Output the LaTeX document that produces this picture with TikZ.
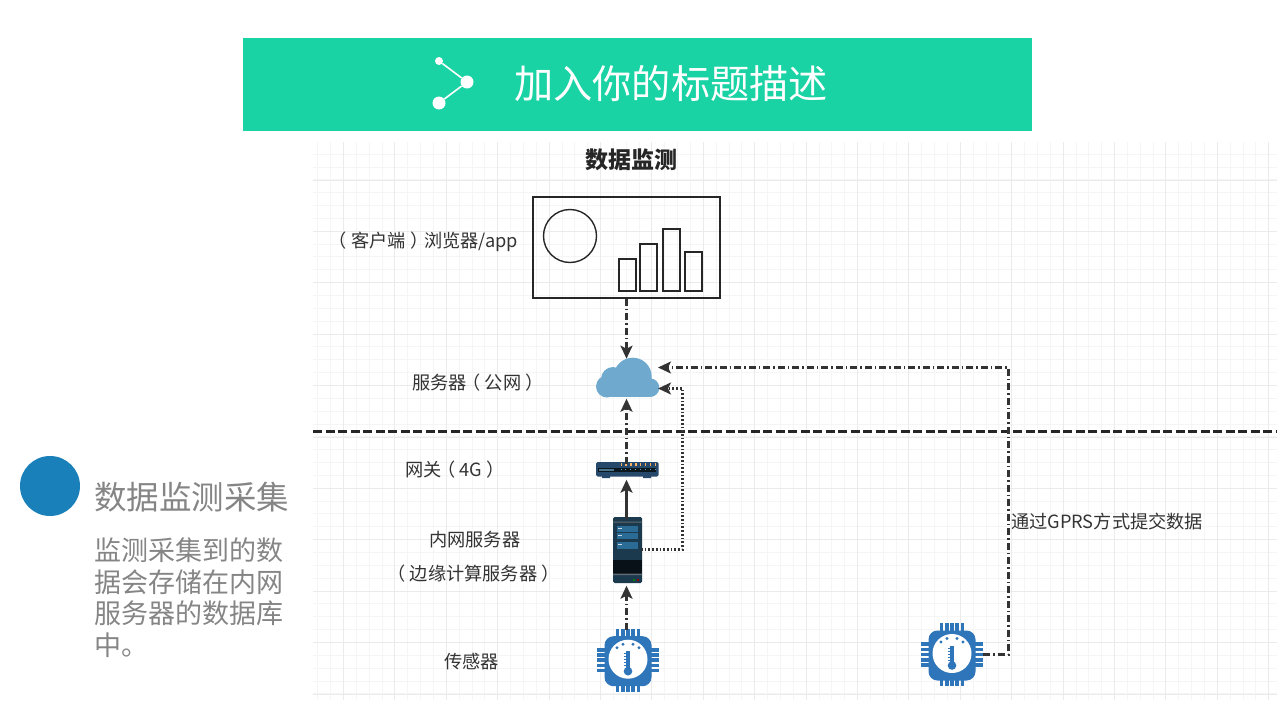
\documentclass[tikz,border=0pt]{standalone}
\usepackage{fontspec}
\setmainfont{Noto Sans CJK SC}
\usepackage{xcolor}
\usetikzlibrary{arrows.meta,positioning}
\definecolor{bannergreen}{HTML}{19D3A5}
\definecolor{chipblue}{HTML}{2E75BA}
\definecolor{cloudblue}{HTML}{6FA9CE}
\definecolor{rackdark}{HTML}{1C3A4E}
\definecolor{rackband}{HTML}{2A6C96}
\definecolor{gatebody}{HTML}{26496B}
\definecolor{inktext}{HTML}{333333}
\definecolor{sidegray}{HTML}{858585}
\definecolor{discblue}{HTML}{1A80B9}
\newcommand{\openp}{\kern-.25em（\kern.25em}
\newcommand{\closep}{\kern.25em）\kern-.25em}

\begin{document}
\begin{tikzpicture}[
  x=1pt, y=-1pt,
  lab/.style={text=inktext, font=\fontsize{18.2}{20}\selectfont, inner sep=0pt},
  icon/.style={inner sep=0pt, outer sep=0pt},
  dot/.style={circle, fill=white, inner sep=0pt},
  gridmin/.style={draw=black!4, line width=.7pt},
  gridmaj/.style={draw=black!8, line width=.9pt},
  arr/.style={-{Stealth[length=13pt, width=12pt, inset=3pt]}, draw=black!80, line width=2.3pt},
  dashdot/.style={arr, dash pattern=on 7pt off 3pt on 1.5pt off 3pt},
  dotty/.style={arr, dash pattern=on 1.7pt off 2pt},
  sensor/.pic={
    \foreach \k in {-10.4,-5.2,0,5.2,10.4} {
      \fill[chipblue] (\k-1.8,-31.5) rectangle (\k+1.8,31.5);
      \fill[chipblue] (-31,\k-1.8) rectangle (31,\k+1.8);
    }
    \fill[chipblue, rounded corners=9pt] (-23.5,-24) rectangle (23.5,26);
    \fill[white] (0,-1) circle (19.5);
    \fill[chipblue] (-1.6,-9) rectangle (1.6,10);
    \fill[chipblue] (0,11) circle (4.3);
    \foreach \px/\py in {-11/-12.5, -5/-16, 5/-16, 11/-12.5} \fill[chipblue] (\px,\py) circle (1.6);
    \foreach \k in {-7,-4,-1,2,5} \fill[chipblue] (-4.5,\k) rectangle (-1,\k+.9);
  }]
  \useasboundingbox (0,0) rectangle (1279,720);
  % grid paper
  \foreach \i in {0,...,74} \draw[gridmin] ({317.7+12.85*\i},142) -- ({317.7+12.85*\i},700);
  \foreach \i in {0,...,42} \draw[gridmin] (313,{154+12.85*\i}) -- (1277,{154+12.85*\i});
  \foreach \i in {0,...,18} \draw[gridmaj] ({343.4+51.4*\i},142) -- ({343.4+51.4*\i},700);
  \foreach \i in {0,...,10} \draw[gridmaj] (313,{180+51.4*\i}) -- (1277,{180+51.4*\i});

  % banner
  \node[fill=bannergreen, minimum width=789pt, minimum height=93pt, inner sep=0pt] (banner) at (637.5,84.5) {};
  \node[text=white, font=\fontsize{39.2}{44}\selectfont, inner sep=0pt, anchor=west] (title) at (514,84) {加入你的标题描述};
  \node[dot, minimum size=8pt] (nodea) at (439,61) {};
  \node[dot, minimum size=13pt] (nodeb) at (467,82) {};
  \node[dot, minimum size=13pt] (nodec) at (439,103) {};
  \draw[white, line width=1.6pt] (nodea)--(nodeb) (nodeb)--(nodec);

  % left side text
  \node[circle, fill=discblue, minimum size=60pt, inner sep=0pt] (disc) at (50,486) {};
  \node[text=sidegray, font=\fontsize{32.5}{36}\selectfont, inner sep=0pt, anchor=west] (sidehead) at (94,497) {数据监测采集};
  \node[text=sidegray, font=\fontsize{27}{31.5}\selectfont, inner sep=0pt, anchor=north west, align=left] (sidebody) at (94,538) {监测采集到的数\\据会存储在内网\\服务器的数据库\\中。};

  % monitored chain
  \node[font=\bfseries\fontsize{23}{26}\selectfont, text=black!85, inner sep=0pt] (head) at (631.5,160) {数据监测};
  \node[draw=black!85, line width=1.4pt, minimum width=187pt, minimum height=101pt, inner sep=0pt] (browser) at (626.5,247.5) {};
  \node[icon, minimum width=63pt, minimum height=40pt, below=60pt of browser] (cloud) {};
  \node[icon, minimum width=63pt, minimum height=16pt, below=65pt of cloud] (gateway) {};
  \node[icon, minimum width=29pt, minimum height=67pt, below=39pt of gateway] (server) {};
  \node[icon, minimum width=62pt, minimum height=63pt, below=44pt of server] (sensora) {};
  \node[icon, minimum width=62pt, minimum height=63pt] (sensorb) at (952,654.5) {};

  % browser contents
  \draw[black!85, line width=1.4pt] (570,236) circle (26.5);
  \foreach \xa/\ya/\xb in {619/259/636, 640/244/657, 663/229/680, 685/252/702}
    \draw[black!85, line width=1.4pt] (\xa,\ya) rectangle (\xb,291);

  % cloud
  \fill[cloudblue] (632.7,376.7) circle (19);
  \fill[cloudblue] (613,379) circle (12);
  \fill[cloudblue] (607,386.5) circle (11);
  \fill[cloudblue] (650,387.7) circle (9.3);
  \fill[cloudblue] (607,381) rectangle (650,397);

  % gateway
  \fill[gatebody, rounded corners=1.5pt] (596,462) rectangle (658.5,476.5);
  \fill[gatebody] (602,476) rectangle (610,478) (643,476) rectangle (651,478);
  \fill[black!60!rackdark] (598,468) rectangle (656,471.5);
  \fill[rackband!60!gray] (599,468.6) rectangle (614,471);
  \foreach \k in {0,...,7} {
    \fill[orange!60!white] (620.5+4.9*\k,463) rectangle (621.8+4.9*\k,465.5);
    \fill[cyan!40!gray] (620.5+4.9*\k,469) rectangle (621.5+4.9*\k,470.4);
  }

  % server
  \fill[rackdark, rounded corners=1.5pt] (613,517) rectangle (642,583);
  \fill[black!70!rackdark] (613,560) rectangle (642,574);
  \fill[gray!70!rackdark] (613,521.5) rectangle (642,522.7) (613,573.5) rectangle (642,575);
  \foreach \ya/\yb in {526/532, 533/539, 542/548.5} {
    \fill[rackband] (617,\ya) rectangle (638,\yb);
    \fill[white!75!rackband] (618,\ya+2) rectangle (622,\ya+3.2);
  }
  \fill[green!50!black] (633,578.5) rectangle (635,580.5);
  \fill[red!60!black] (637,578.5) rectangle (639,580.5);

  % sensors
  \pic[xshift=1.5pt, yshift=1pt] at (sensora) {sensor};
  \pic at (sensorb) {sensor};

  % network boundary
  \coordinate (lineleft) at (313,431.5);
  \coordinate (lineright) at (1277,431.5);
  \draw[black!85, line width=2.3pt, dash pattern=on 9pt off 3.5pt] (lineleft)--(lineright);

  % links
  \coordinate (dotupper) at (682.5,549.5);
  \coordinate (dotlower) at (682.5,388.5);
  \coordinate (gprslow) at (1008.5,654.5);
  \coordinate (gprshigh) at (1008.5,367.5);
  \draw[dashdot] (browser) -- (cloud);
  \draw[dashdot] (gateway) -- (cloud);
  \draw[arr] (server) -- (gateway);
  \draw[dashdot] (sensora) -- (server);
  \draw[dotty] (server.east |- dotupper) -- (dotupper) -- (dotlower) -- (cloud.east |- dotlower);
  \draw[dashdot] (sensorb.east) -- (gprslow) -- (gprshigh) -- (cloud.east |- gprshigh);

  % labels
  \node[lab, anchor=west] (labbrowser) at (333,242) {\openp 客户端\closep 浏览器/app};
  \node[lab, anchor=west] (labcloud) at (412,383) {服务器\openp 公网\closep};
  \node[lab, anchor=west] (labgate) at (405,470) {网关\openp 4G\closep};
  \node[lab, anchor=west] (labinner) at (429,540) {内网服务器};
  \node[lab, anchor=west] (labedge) at (391.5,574) {\openp 边缘计算服务器\closep};
  \node[lab, anchor=west] (labsensor) at (444,662) {传感器};
  \node[lab, anchor=west] (labgprs) at (1011,522) {通过GPRS方式提交数据};
\end{tikzpicture}
\end{document}
